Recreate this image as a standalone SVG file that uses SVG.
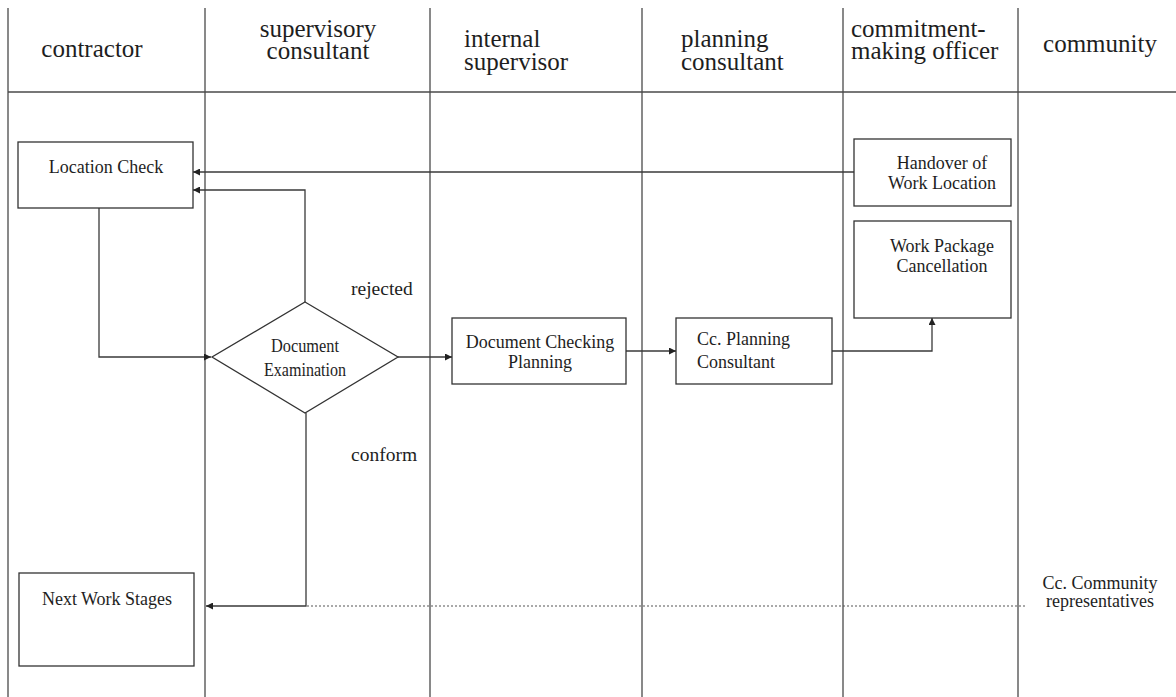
<svg xmlns="http://www.w3.org/2000/svg" width="1176" height="697" viewBox="0 0 1176 697">
  <style>
    .lane { stroke: #4a4a4a; stroke-width: 1.3; fill: none; }
    .box { fill: #ffffff; stroke: #333333; stroke-width: 1.3; }
    .wire { fill: none; stroke: #3a3a3a; stroke-width: 1.3; }
    .dotted { fill: none; stroke: #555555; stroke-width: 1.2; stroke-dasharray: 2 2; }
    .head { font-family: "Liberation Serif", "Times New Roman", serif; font-size: 25px; fill: #1e1e1e; }
    .label { font-family: "Liberation Serif", "Times New Roman", serif; font-size: 18px; fill: #1e1e1e; }
    .note { font-family: "Liberation Serif", "Times New Roman", serif; font-size: 19.5px; fill: #1e1e1e; }
    .mid { text-anchor: middle; }
  </style>
  <defs>
    <marker id="arrow" viewBox="0 0 10 10" refX="10" refY="5" markerWidth="7" markerHeight="7" markerUnits="userSpaceOnUse" orient="auto">
      <path d="M0,0 L10,5 L0,10 z" fill="#222222"/>
    </marker>
  </defs>

  <rect width="1176" height="697" fill="#ffffff"/>

  <!-- swimlane grid -->
  <g id="lanes">
    <line class="lane" x1="8" y1="8" x2="8" y2="697"/>
    <line class="lane" x1="205" y1="8" x2="205" y2="697"/>
    <line class="lane" x1="430" y1="8" x2="430" y2="697"/>
    <line class="lane" x1="642" y1="8" x2="642" y2="697"/>
    <line class="lane" x1="843" y1="8" x2="843" y2="697"/>
    <line class="lane" x1="1018" y1="8" x2="1018" y2="697"/>
    <line class="lane" x1="8" y1="92" x2="1176" y2="92"/>
  </g>

  <!-- lane headers -->
  <g id="headers">
    <text class="head mid" x="92" y="57">contractor</text>
    <text class="head mid" x="318" y="37">supervisory</text>
    <text class="head mid" x="318" y="59">consultant</text>
    <text class="head" x="464" y="47">internal</text>
    <text class="head" x="464" y="70">supervisor</text>
    <text class="head" x="681" y="47">planning</text>
    <text class="head" x="681" y="70">consultant</text>
    <text class="head" x="851" y="37">commitment-</text>
    <text class="head" x="851" y="59">making officer</text>
    <text class="head mid" x="1100" y="52">community</text>
  </g>

  <!-- connectors -->
  <g id="connectors">
    <path class="wire" d="M854,172 H193" marker-end="url(#arrow)"/>
    <path class="wire" d="M305,302 V190 H193" marker-end="url(#arrow)"/>
    <path class="wire" d="M99,208 V357 H211" marker-end="url(#arrow)"/>
    <path class="wire" d="M398,357 H452" marker-end="url(#arrow)"/>
    <path class="wire" d="M626,351 H676" marker-end="url(#arrow)"/>
    <path class="wire" d="M832,351 H932 V318" marker-end="url(#arrow)"/>
    <path class="wire" d="M306,413 V606 H206" marker-end="url(#arrow)"/>
    <path class="dotted" d="M307,606 H1027"/>
    <text class="note" x="351" y="295">rejected</text>
    <text class="note" x="351" y="461">conform</text>
  </g>

  <!-- process steps -->
  <g id="location-check">
    <rect class="box" x="18" y="142" width="175" height="66"/>
    <text class="label mid" x="106" y="173">Location Check</text>
  </g>

  <g id="handover">
    <rect class="box" x="854" y="139" width="157" height="67"/>
    <text class="label mid" x="942" y="169">Handover of</text>
    <text class="label mid" x="942" y="189">Work Location</text>
  </g>

  <g id="package-cancellation">
    <rect class="box" x="854" y="221" width="157" height="97"/>
    <text class="label mid" x="942" y="252">Work Package</text>
    <text class="label mid" x="942" y="272">Cancellation</text>
  </g>

  <g id="document-examination">
    <polygon class="box" points="305,302 398,357 305,413 212,357"/>
    <text class="label mid" x="305" y="352" font-size="22" textLength="68" lengthAdjust="spacingAndGlyphs">Document</text>
    <text class="label mid" x="305" y="376" font-size="22" textLength="82" lengthAdjust="spacingAndGlyphs">Examination</text>
  </g>

  <g id="document-checking">
    <rect class="box" x="452" y="318" width="174" height="66"/>
    <text class="label mid" x="540" y="348">Document Checking</text>
    <text class="label mid" x="540" y="368">Planning</text>
  </g>

  <g id="cc-planning">
    <rect class="box" x="676" y="318" width="156" height="66"/>
    <text class="label" x="697" y="345" font-size="20">Cc. Planning</text>
    <text class="label" x="697" y="368" font-size="20">Consultant</text>
  </g>

  <g id="next-stages">
    <rect class="box" x="19" y="573" width="175" height="93"/>
    <text class="label mid" x="107" y="605">Next Work Stages</text>
  </g>

  <g id="cc-community">
    <text class="label mid" x="1100" y="589" font-size="17.5">Cc. Community</text>
    <text class="label mid" x="1100" y="607" font-size="17.5">representatives</text>
  </g>
</svg>
